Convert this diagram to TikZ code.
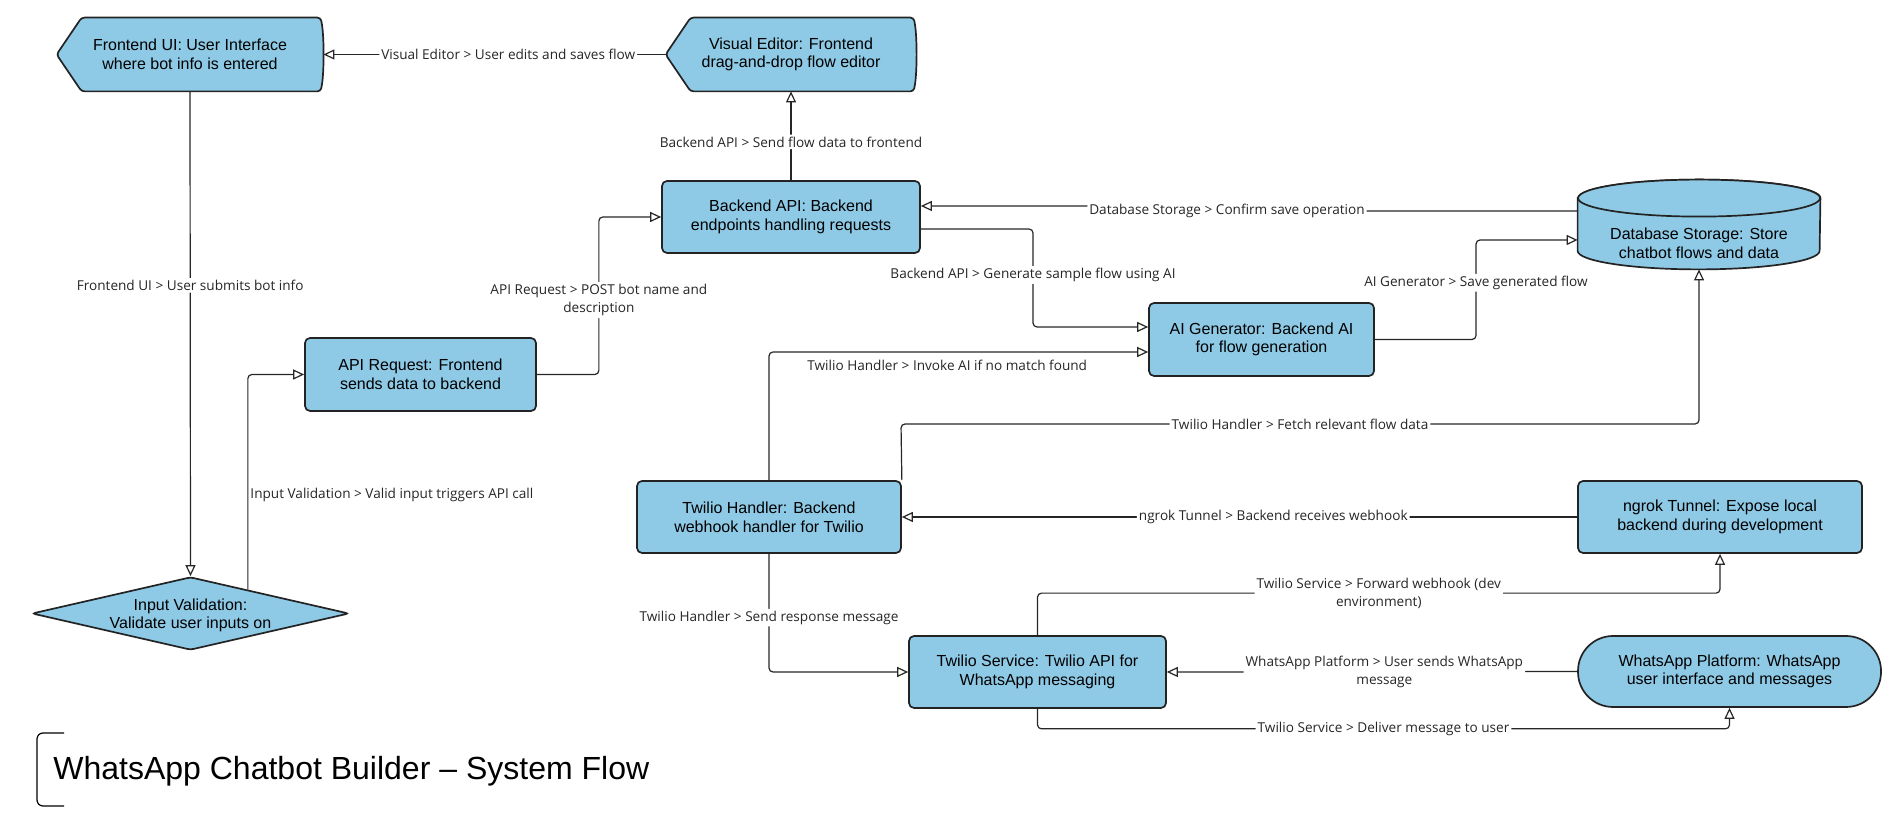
\documentclass[tikz,border=0pt]{standalone}
\usepackage{fontspec}
\setmainfont{Liberation Sans}
\newfontfamily\lblfont{Open Sans}
\usetikzlibrary{arrows.meta}
\usetikzlibrary{calc}
\usetikzlibrary{shapes.geometric}
\usetikzlibrary{backgrounds}

\definecolor{boxfill}{RGB}{142,202,230}
\definecolor{boxedge}{RGB}{35,35,35}

\tikzset{
  box/.style={draw=boxedge, line width=0.85pt, fill=boxfill, rounded corners=2.5pt, align=center, inner sep=0pt, font=\fontsize{8}{9.3}\selectfont},
  bare/.style={align=center, inner sep=0pt, font=\fontsize{8}{9.3}\selectfont},
  shp/.style={draw=boxedge, line width=0.85pt, fill=boxfill},
  flow/.style={draw=black!85, line width=0.6pt, rounded corners=2pt, -{Triangle[open, length=5.5pt, width=5pt]}},
  lbl/.style={font=\lblfont\fontsize{6.8}{9.2}\selectfont, fill=white, inner sep=1pt, align=center, text=black!85},
}

\begin{document}
\begin{tikzpicture}[x=0.5pt, y=0.5pt]
\useasboundingbox (0,0) rectangle (1898,823);

% frontend side
\node[bare, minimum width=133pt, minimum height=36.5pt] (fui) at (190,768.5) {Frontend UI: User Interface\\where bot info is entered};
\node[bare, minimum width=125pt, minimum height=36.5pt] (ve) at (791,768.5) {Visual Editor: Frontend\\drag-and-drop flow editor};
\node[box, minimum width=115.5pt, minimum height=36.5pt] (areq) at (420.5,448.5) {API Request: Frontend\\sends data to backend};
\node[box, diamond, rounded corners=1.5pt, minimum width=158.5pt, minimum height=36.5pt] (iv) at (190.5,209.5) {};
\node[bare] (ivtext) at (190.5,207.5) {Input Validation:\\Validate user inputs on};

% backend side
\node[box, minimum width=129pt, minimum height=36pt] (bapi) at (791,606) {Backend API: Backend\\endpoints handling requests};
\node[box, minimum width=112.5pt, minimum height=36.5pt] (aig) at (1261.5,483.5) {AI Generator: Backend AI\\for flow generation};
\node[bare, minimum width=121pt, minimum height=26pt] (db) at (1699,580) {Database Storage: Store\\chatbot flows and data};
\node[box, minimum width=132pt, minimum height=36pt] (th) at (769,306) {Twilio Handler: Backend\\webhook handler for Twilio};
\node[box, minimum width=142pt, minimum height=36pt] (ngrok) at (1720,306) {ngrok Tunnel: Expose local\\backend during development};
\node[box, minimum width=128.5pt, minimum height=36pt] (ts) at (1037.5,151) {Twilio Service: Twilio API for\\WhatsApp messaging};
\node[box, rounded corners=17.5pt, minimum width=151.5pt, minimum height=35.5pt] (wa) at (1729.5,151.5) {WhatsApp Platform: WhatsApp\\user interface and messages};

\begin{scope}[on background layer]
% display shapes
\foreach \n in {fui,ve}{
  \draw[shp, rounded corners=1.5pt] (\n.west) -- ($(\n.north west)+(25,0)$) -- ($(\n.north east)+(-3,0)$)
    .. controls ($(\n.north east)+(1,-15)$) and ($(\n.south east)+(1,15)$) .. ($(\n.south east)+(-3,0)$)
    -- ($(\n.south west)+(25,0)$) -- cycle;
}
% cylinder
\draw[shp] ($(db.north west)+(0,18.5)$) -- ($(db.south west)+(0,18.5)$)
  arc[start angle=180, end angle=360, x radius=60.5pt, y radius=9.25pt]
  -- ($(db.north east)+(0,18.5)$)
  arc[start angle=0, end angle=180, x radius=60.5pt, y radius=9.25pt] -- cycle;
\draw[shp] ($(db.north)+(0,18.5)$) ellipse[x radius=60.5pt, y radius=9.25pt];
\end{scope}

% connectors
\draw[flow] (ve.west) -- (fui.east) node[lbl, pos=0.46] {Visual Editor > User edits and saves flow};
\draw[flow] (fui.south) -- (iv.north) node[lbl, pos=0.4] {Frontend UI > User submits bot info};
\draw[flow] ($(iv.north)!0.36!(iv.east)$) |- (areq.west) node[lbl, pos=0.22, anchor=west, fill=none] {Input Validation > Valid input triggers API call};
\draw[flow] (areq.east) -- ++(62,0) |- (bapi.west) node[lbl, pos=0.236] {API Request > POST bot name and\\description};
\draw[flow] (bapi.north) -- (ve.south) node[lbl, pos=0.43] {Backend API > Send flow data to frontend};
\draw[flow] (db.west |- 0,612) -- (1227,612) node[lbl] {Database Storage > Confirm save operation} -- (1227,617) -- (bapi.east |- 0,617);
\draw[flow] (bapi.east |- 0,594) -- (1033,594) -- (1033,496) node[lbl, pos=0.47] {Backend API > Generate sample flow using AI} -- (aig.west |- 0,496);
\draw[flow] (aig.east) -- (1476,483.5) -- (1476,583) node[lbl, pos=0.57] {AI Generator > Save generated flow} -- (db.west |- 0,583);
\draw[flow] (th.north) -- (769,471) -- (aig.west |- 0,471) node[lbl, pos=0.47, anchor=north, yshift=-3pt, fill=none] {Twilio Handler > Invoke AI if no match found};
\draw[flow] (th.north east) -- (901,399) -- (db.south |- 0,399) node[lbl, midway] {Twilio Handler > Fetch relevant flow data} -- (db.south);
\draw[flow] (ngrok.west) -- (th.east) node[lbl, pos=0.45] {ngrok Tunnel > Backend receives webhook};
\draw[flow] (th.south) |- (ts.west) node[lbl, pos=0.27] {Twilio Handler > Send response message};
\draw[flow] (ts.north) -- ++(0,42) -| (ngrok.south) node[lbl, pos=0.25] {Twilio Service > Forward webhook (dev\\environment)};
\draw[flow] (wa.west) -- (ts.east) node[lbl, pos=0.47] {WhatsApp Platform > User sends WhatsApp\\message};
\draw[flow] (ts.south) -- ++(0,-20) -| (wa.south) node[lbl, pos=0.25] {Twilio Service > Deliver message to user};

% title
\draw[line width=0.6pt, rounded corners=3pt] (64,90) -- (37,90) -- (37,17) -- (64,17);
\node[anchor=base west, inner sep=0pt, font=\fontsize{16}{19}\selectfont] (title) at (53,43) {WhatsApp Chatbot Builder – System Flow};
\end{tikzpicture}
\end{document}
